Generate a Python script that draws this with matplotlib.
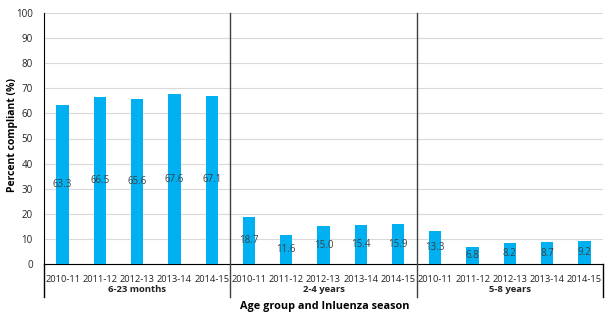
import matplotlib
matplotlib.use("Agg")
import matplotlib.pyplot as plt
import numpy as np

groups = ["6-23 months", "2-4 years", "5-8 years"]
seasons = ["2010-11", "2011-12", "2012-13", "2013-14", "2014-15"]
compliant = [
    [63.3, 66.5, 65.6, 67.6, 67.1],
    [18.7, 11.6, 15.0, 15.4, 15.9],
    [13.3, 6.8, 8.2, 8.7, 9.2],
]

plt.rcParams["font.family"] = ["Open Sans", "DejaVu Sans"]

fig = plt.figure(figsize=(6.13, 3.22), dpi=100)
ax = fig.add_axes([44 / 613, 1 - 264 / 322, (603 - 44) / 613, (264 - 13) / 322])

vals = [v for g in compliant for v in g]
x = np.arange(len(vals))
ax.bar(x, vals, width=0.33, color="#00B0F0", zorder=3)
for xi, v in zip(x, vals):
    ax.text(xi, v / 2, f"{v:.1f}", ha="center", va="center", fontsize=7, color="#404040", zorder=4)

ax.set_xlim(-0.5, len(vals) - 0.5)
ax.set_ylim(0, 100)
ax.set_yticks(range(0, 101, 10))
ax.tick_params(axis="y", length=0, labelsize=7, pad=8, labelcolor="#222222")
ax.set_xticks(x)
ax.set_xticklabels(seasons * len(groups), fontsize=6.7, color="#222222")
ax.tick_params(axis="x", length=0, pad=8)
ax.grid(axis="y", color="#d9d9d9", linewidth=0.8, zorder=0)
for s in ["top", "right"]:
    ax.spines[s].set_visible(False)
ax.spines["left"].set_color("black")
ax.spines["bottom"].set_color("black")

n = len(seasons)
ybot = -13.3  # axis units below zero for the group separators
for i in range(1, len(groups)):
    ax.plot([i * n - 0.5] * 2, [100, ybot], color="#404040", lw=1, clip_on=False, zorder=5)
ax.plot([-0.5] * 2, [0, ybot], color="black", lw=1, clip_on=False)
ax.plot([len(vals) - 0.5] * 2, [0, ybot], color="black", lw=1, clip_on=False)
for i, g in enumerate(groups):
    ax.text(i * n + (n - 1) / 2, -10, g, ha="center", va="center", fontsize=6.8,
            fontweight="bold", color="#222222")

fig.text(13 / 613, 1 - 135 / 322, "Percent compliant (%)", rotation=90, ha="center", va="center",
         fontsize=7.5, fontweight="bold")
fig.text(325 / 613, 1 - 307 / 322, "Age group and Inluenza season", ha="center", va="center",
         fontsize=7.8, fontweight="bold")

fig.savefig("out.png", dpi=100)
